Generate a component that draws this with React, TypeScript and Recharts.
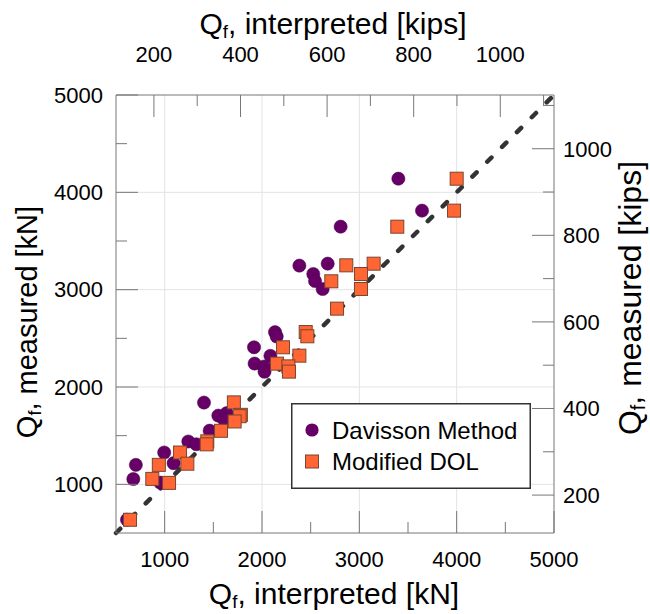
import React from 'react';
import { ScatterChart, Scatter, XAxis, YAxis, ReferenceLine, Legend, Label } from 'recharts';

const KN_PER_KIP = 4.448;

// Davisson Method: Q_f interpreted vs measured [kN]
const davissonInterpreted = [3401, 3644, 2808, 2384, 2675, 2527, 2545, 2623, 2134, 2151, 1918, 2086, 1924, 2022, 2026, 1404, 1637, 1551, 1610, 1462, 1243, 1325, 995, 1092, 704, 678, 955, 613];
const davissonMeasured = [4140, 3812, 3647, 3247, 3267, 3161, 3089, 3007, 2563, 2519, 2408, 2320, 2241, 2210, 2157, 1840, 1731, 1706, 1666, 1551, 1440, 1412, 1327, 1217, 1200, 1055, 1017, 636];

// Modified DOL
const dolInterpreted = [4000, 3973, 3390, 2866, 3147, 3017, 2712, 3017, 2771, 2449, 2466, 2216, 2384, 2154, 2271, 2277, 1711, 1783, 1770, 1719, 1579, 1438, 1432, 1158, 1233, 940, 873, 1045, 644];
const dolMeasured = [4140, 3812, 3647, 3250, 3267, 3161, 3086, 3007, 2805, 2565, 2521, 2408, 2322, 2240, 2212, 2158, 1842, 1714, 1700, 1646, 1550, 1442, 1411, 1327, 1212, 1200, 1056, 1015, 636];

const knTicks = [1000, 1500, 2000, 2500, 3000, 3500, 4000, 4500, 5000];
const knLabels = [1000, 2000, 3000, 4000, 5000];
const knGrid = [1000, 2000, 3000, 4000];
const kipTicks = [200, 300, 400, 500, 600, 700, 800, 900, 1000, 1100];
const kipLabels = [200, 400, 600, 800, 1000];
const knDomain = [500, 5000];
const unityLine = [{ x: 500, y: 500 }, { x: 5000, y: 5000 }];

// kips ticks expressed in kN so they sit on the kN scale of the secondary axes
const kipTicksInKN = kipTicks.map((k) => k * KN_PER_KIP);

const davissonData = davissonInterpreted.map((x, i) => ({ x, y: davissonMeasured[i] }));
const dolData = dolInterpreted.map((x, i) => ({ x, y: dolMeasured[i] }));

const FONT = '"Liberation Sans", Arial, Helvetica, sans-serif';
const PURPLE = '#660066';
const ORANGE = '#ff6633';
const TICK_COLOR = '#777777';
const TICK_FONT = 22;

type Orient = 'top' | 'bottom' | 'left' | 'right';

function makeTick(orient: Orient, margin: number, labels: number[], toUnit: (v: number) => number) {
  return (props: any) => {
    const { x, y, payload } = props;
    const v = toUnit(payload.value);
    const major = labels.includes(v);
    const len = major ? 22 : 11;
    let line: any = null;
    let text: any = null;
    if (orient === 'bottom') {
      const y0 = y - margin;
      line = <line x1={x} x2={x} y1={y0} y2={y0 - len} stroke={TICK_COLOR} strokeWidth={1} />;
      if (major) text = <text x={x} y={y} dy="0.71em" textAnchor="middle" fill="#000" fontSize={TICK_FONT} fontFamily={FONT}>{v}</text>;
    } else if (orient === 'top') {
      const y0 = y + margin;
      line = <line x1={x} x2={x} y1={y0} y2={y0 + len} stroke={TICK_COLOR} strokeWidth={1} />;
      if (major) text = <text x={x} y={y} textAnchor="middle" fill="#000" fontSize={TICK_FONT} fontFamily={FONT}>{v}</text>;
    } else if (orient === 'left') {
      const x0 = x + margin;
      line = <line x1={x0} x2={x0 + len} y1={y} y2={y} stroke={TICK_COLOR} strokeWidth={1} />;
      if (major) text = <text x={x} y={y} dy="0.355em" textAnchor="end" fill="#000" fontSize={TICK_FONT} fontFamily={FONT}>{v}</text>;
    } else {
      const x0 = x - margin;
      line = <line x1={x0} x2={x0 - len} y1={y} y2={y} stroke={TICK_COLOR} strokeWidth={1} />;
      if (major) text = <text x={x} y={y} dy="0.355em" textAnchor="start" fill="#000" fontSize={TICK_FONT} fontFamily={FONT}>{v}</text>;
    }
    return (
      <g>
        {line}
        {text}
      </g>
    );
  };
}

const same = (v: number) => v;
const knToKip = (v: number) => Math.round(v / KN_PER_KIP);

function Title(props: { x: number; y: number; rotate?: boolean; size: number; rest: string }) {
  const { x, y, rotate, size, rest } = props;
  return (
    <text
      x={x}
      y={y}
      textAnchor="middle"
      fill="#000"
      fontSize={size}
      fontFamily={FONT}
      transform={rotate ? `rotate(-90 ${x} ${y})` : undefined}
    >
      Q
      <tspan fontSize={size * 0.62} dy={size * 0.14}>f</tspan>
      <tspan dy={-size * 0.14}>{rest}</tspan>
    </text>
  );
}

const circleShape = (p: any) => <circle cx={p.cx} cy={p.cy} r={6.6} fill={PURPLE} stroke="#4a004a" strokeWidth={0.5} />;
const squareShape = (p: any) => (
  <rect x={p.cx - 6.5} y={p.cy - 6.5} width={13} height={13} fill={ORANGE} stroke="#7a4530" strokeWidth={1} />
);

function LegendBox() {
  return (
    <svg width={240} height={86} style={{ display: 'block' }}>
      <rect x={0.75} y={0.75} width={238.5} height={84.5} fill="#fff" stroke="#333" strokeWidth={1.5} />
      <circle cx={21} cy={27} r={6.6} fill={PURPLE} />
      <text x={41} y={27} dy="0.355em" fontSize={24} fontFamily={FONT} fill="#000">Davisson Method</text>
      <rect x={14.5} y={52} width={13} height={13} fill={ORANGE} stroke="#7a4530" strokeWidth={1} />
      <text x={41} y={58.5} dy="0.355em" fontSize={24} fontFamily={FONT} fill="#000">Modified DOL</text>
    </svg>
  );
}

export default function App() {
  return (
    <div style={{ position: 'absolute', left: 0, top: 0, width: 650, height: 614, background: '#fff' }}>
      <ScatterChart width={650} height={614} margin={{ top: 0, right: 0, bottom: 0, left: 0 }}>
        <XAxis
          xAxisId="kn"
          type="number"
          dataKey="x"
          orientation="bottom"
          height={81}
          domain={knDomain}
          ticks={knTicks}
          interval={0}
          allowDataOverflow
          tickSize={0}
          tickMargin={18}
          tickLine={false}
          axisLine={{ stroke: TICK_COLOR, strokeWidth: 1 }}
          tick={makeTick('bottom', 18, knLabels, same)}
        >
          <Label content={() => <Title x={334} y={604} size={30} rest=", interpreted [kN]" />} />
        </XAxis>
        <XAxis
          xAxisId="top"
          type="number"
          dataKey="x"
          orientation="top"
          height={95}
          domain={knDomain}
          ticks={kipTicksInKN}
          interval={0}
          allowDataOverflow
          tickSize={0}
          tickMargin={33}
          tickLine={false}
          axisLine={{ stroke: TICK_COLOR, strokeWidth: 1 }}
          tick={makeTick('top', 33, kipLabels, knToKip)}
        >
          <Label content={() => <Title x={333} y={34} size={30} rest=", interpreted [kips]" />} />
        </XAxis>
        <YAxis
          yAxisId="kn"
          type="number"
          dataKey="y"
          orientation="left"
          width={116}
          domain={knDomain}
          ticks={knTicks}
          interval={0}
          allowDataOverflow
          tickSize={0}
          tickMargin={13}
          tickLine={false}
          axisLine={{ stroke: TICK_COLOR, strokeWidth: 1 }}
          tick={makeTick('left', 13, knLabels, same)}
        >
          <Label content={() => <Title x={37} y={322} rotate size={29} rest=", measured [kN]" />} />
        </YAxis>
        <YAxis
          yAxisId="right"
          type="number"
          dataKey="y"
          orientation="right"
          width={96}
          domain={knDomain}
          ticks={kipTicksInKN}
          interval={0}
          allowDataOverflow
          tickSize={0}
          tickMargin={9}
          tickLine={false}
          axisLine={{ stroke: TICK_COLOR, strokeWidth: 1 }}
          tick={makeTick('right', 9, kipLabels, knToKip)}
        >
          <Label content={() => <Title x={641} y={298} rotate size={32} rest=", measured [kips]" />} />
        </YAxis>
        {knGrid.map((v) => (
          <ReferenceLine key={'gx' + v} xAxisId="kn" yAxisId="kn" x={v} stroke="#e3e3e3" strokeWidth={1} />
        ))}
        {knGrid.map((v) => (
          <ReferenceLine key={'gy' + v} xAxisId="kn" yAxisId="kn" y={v} stroke="#e3e3e3" strokeWidth={1} />
        ))}
        <ReferenceLine
          xAxisId="kn"
          yAxisId="kn"
          segment={unityLine}
          stroke="#333333"
          strokeWidth={4.5}
          strokeDasharray="6 15"
          strokeLinecap="round"
          ifOverflow="visible"
        />
        <Scatter name="Davisson Method" data={davissonData} xAxisId="kn" yAxisId="kn" shape={circleShape} isAnimationActive={false} />
        <Scatter name="Modified DOL" data={dolData} xAxisId="kn" yAxisId="kn" shape={squareShape} isAnimationActive={false} />
        <Legend
          layout="horizontal"
          verticalAlign="middle"
          align="center"
          wrapperStyle={{ left: 291, top: 403, width: 240, height: 86 }}
          content={() => <LegendBox />}
        />
      </ScatterChart>
    </div>
  );
}
